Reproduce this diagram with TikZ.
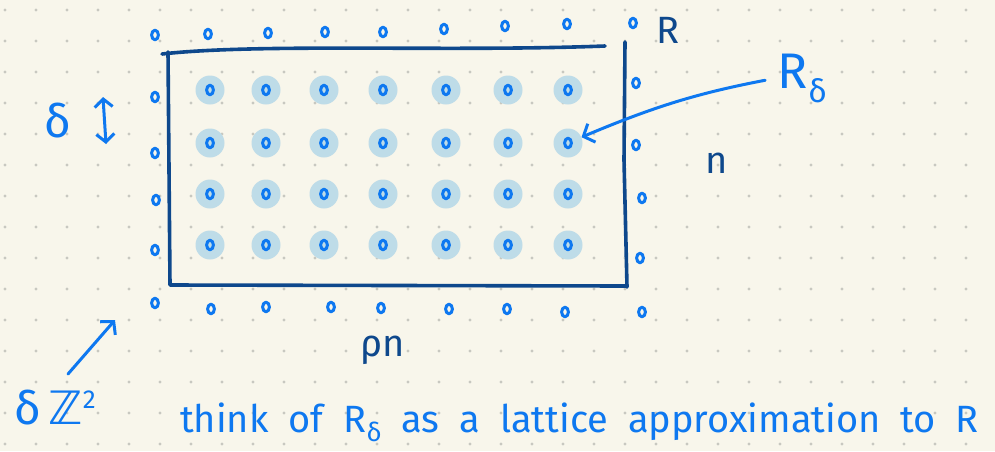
\documentclass[tikz,border=0pt]{standalone}
\usepackage{fontspec}
\usepackage{xcolor}
\usepackage{tikz}
\usetikzlibrary{arrows.meta}
\setmainfont{Fira Sans}
\newfontfamily\zfont{DejaVu Sans}
\definecolor{paper}{RGB}{248,246,235}
\definecolor{gridgray}{RGB}{200,200,192}
\definecolor{inkblue}{RGB}{14,120,240}
\definecolor{darkink}{RGB}{14,72,140}
\definecolor{halo}{RGB}{190,220,232}

\begin{document}
\begin{tikzpicture}[x=1pt, y=-1pt, line cap=round, line join=round,
  ink/.style={inkblue, line width=3pt},
  dark/.style={darkink, line width=3.6pt},
  halodisk/.style={circle, fill=halo, minimum size=29pt, inner sep=0pt},
  hand/.style={inner sep=0pt, font=\fontsize{38}{40}\selectfont},
  barb/.style={-{Straight Barb[length=9pt, width=20pt]}}]
  % dotted paper
  \fill[paper] (0,0) rectangle (995,451);
  \useasboundingbox (0,0) rectangle (995,451);
  \foreach \x in {0,...,31}
    \foreach \y in {0,...,14}
      \fill[gridgray] (5+31*\x, 10+31*\y) circle (1.6pt);
  % lattice points inside R
  \foreach \px [count=\i] in {210,266,324,383,446,508,568}
    \foreach \py [count=\j] in {90,143,194,245} {
      \node[halodisk] (p-\i-\j) at (\px,\py) {};
      \draw[ink] (p-\i-\j.center) ellipse (3.4pt and 4.8pt);
    }
  % lattice points outside R
  \foreach \pt in {(155,35),(208,34),(268,33),(325,32),(383,32),(444,29),(505,26),(567,24),(633,23),
      (155,97),(155,153),(156,200),(155,250),
      (636,83),(636,145),(642,198),(640,258),
      (155,303),(211,309),(266,307),(331,307),(381,308),(449,309),(507,309),(565,312),(642,312)}
    \draw[ink] \pt ellipse (3.4pt and 4.8pt);
  % the rectangle R
  \draw[dark] (162,54) .. controls (260,43) and (450,52) .. (605,46);
  \draw[dark] (625,42) -- (624,160) -- (627,287);
  \draw[dark] (168,52) -- (170,285) -- (627,286);
  % labels
  \node[hand, darkink] (R) at (668,30) {R};
  \node[hand, inkblue, font=\fontsize{50}{50}\selectfont] (Rd) at (802,78)
    {R\kern1pt\raisebox{-14pt}{\fontsize{32}{32}\selectfont δ}};
  \draw[ink, barb, shorten <=12pt] (Rd.west) to[bend right=6] (p-7-2);
  \node[hand, darkink] (n) at (717,163) {n};
  \node[hand, inkblue, font=\fontsize{46}{46}\selectfont] (d) at (58,121) {δ};
  \coordinate (dtop) at (103,97);
  \coordinate (dbot) at (106,144);
  \draw[ink, {Straight Barb[length=8pt, width=18pt]}-{Straight Barb[length=8pt, width=18pt]}] (dtop) -- (dbot);
  \node[hand, darkink] (rhon) at (383,350) {ρn};
  \node[hand, inkblue, font=\fontsize{46}{46}\selectfont] (dz) at (55,408)
    {δ\,{\zfont ℤ}\raisebox{16pt}{\fontsize{26}{26}\selectfont 2}};
  \coordinate (dztail) at (68,374);
  \coordinate (dztip) at (115,320);
  \draw[ink, barb] (dztail) -- (dztip);
  \node[hand, inkblue, anchor=base west] (note) at (180,432)
    {\spaceskip=20pt think of R\raisebox{-9pt}{\fontsize{26}{26}\selectfont δ} as a lattice approximation to R};
\end{tikzpicture}
\end{document}
